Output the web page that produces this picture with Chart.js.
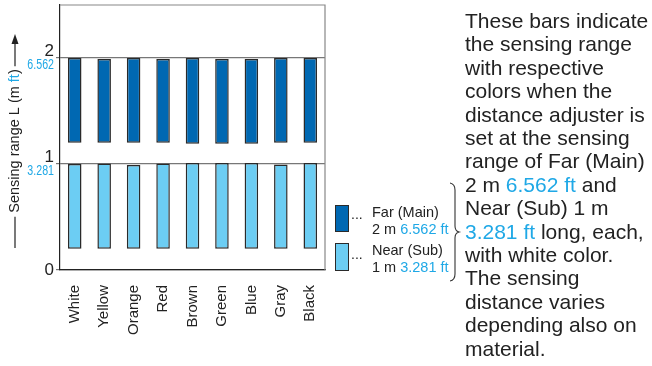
<!DOCTYPE html>
<html>
<head>
<meta charset="utf-8">
<script src="https://cdn.jsdelivr.net/npm/chart.js@4/dist/chart.umd.min.js"></script>
<style>
  html, body { margin: 0; padding: 0; background: #fff; }
  #wrap { position: relative; width: 652px; height: 366px; font-family: "Liberation Sans", Arial, sans-serif; color: #222; }
  #chart { position: absolute; left: 0; top: 0; }
  .ft { color: #1fa8e6; }
  #note { position: absolute; left: 465px; top: 9px; font-size: 21px; line-height: 23.4px; white-space: nowrap; }
  .sw { position: absolute; left: 335px; width: 14px; border: 1.5px solid #2a2a2a; box-sizing: border-box; }
  .lg { position: absolute; left: 372px; font-size: 14.5px; line-height: 16.5px; white-space: nowrap; }
  .dots { position: absolute; left: 351px; font-size: 14px; line-height: 14px; }
</style>
</head>
<body>
<div id="wrap">
  <canvas id="chart" width="652" height="366"></canvas>

  <div class="sw" style="top:205px;height:27px;background:#0068b2"></div>
  <div class="dots" style="top:207px">...</div>
  <div class="lg" style="top:204px">Far (Main)<br>2 m <span class="ft">6.562 ft</span></div>

  <div class="sw" style="top:243px;height:28px;background:#6ccdf3"></div>
  <div class="dots" style="top:247px">...</div>
  <div class="lg" style="top:242px">Near (Sub)<br>1 m <span class="ft">3.281 ft</span></div>

  <div id="note">These bars indicate<br>the sensing range<br>with respective<br>colors when the<br>distance adjuster is<br>set at the sensing<br>range of Far (Main)<br>2 m <span class="ft">6.562 ft</span> and<br>Near (Sub) 1 m<br><span class="ft">3.281 ft</span> long, each,<br>with white color.<br>The sensing<br>distance varies<br>depending also on<br>material.</div>
</div>

<script>
// object colours on the x axis
const colorNames = ['White', 'Yellow', 'Orange', 'Red', 'Brown', 'Green', 'Blue', 'Gray', 'Black'];

// Far (Main) range, start and end in m
const farStart = [1.2, 1.2, 1.2, 1.2, 1.19, 1.19, 1.19, 1.2, 1.2];
const farEnd   = [2.0, 1.99, 2.0, 1.99, 2.0, 1.99, 1.99, 2.0, 2.0];

// Near (Sub) range, start and end in m
const nearStart = [0.2, 0.2, 0.2, 0.2, 0.2, 0.2, 0.2, 0.2, 0.2];
const nearEnd   = [1.0, 1.005, 0.99, 1.005, 1.01, 1.01, 1.01, 0.995, 1.01];

// y ticks: metres and the feet shown under them
const tickMeters = [0, 1, 2];
const tickFeet   = ['', '3.281', '6.562'];

const CYAN = '#1fa8e6';
const INK = '#222';

// axis labels, frame, y title with arrow, brace
const decorations = {
  id: 'decorations',
  afterDraw(chart) {
    const ctx = chart.ctx;
    const area = chart.chartArea;
    const y = chart.scales.y;
    ctx.save();

    // top and right frame
    ctx.strokeStyle = '#888';
    ctx.lineWidth = 1.2;
    ctx.beginPath();
    ctx.moveTo(area.left, area.top);
    ctx.lineTo(area.right, area.top);
    ctx.lineTo(area.right, area.bottom);
    ctx.stroke();

    // y tick labels
    ctx.textAlign = 'right';
    ctx.textBaseline = 'middle';
    tickMeters.forEach((v, i) => {
      const py = y.getPixelForValue(v);
      ctx.fillStyle = INK;
      ctx.font = '17px "Liberation Sans", Arial, sans-serif';
      if (v === 0) {
        ctx.fillText('0', 54, py);
      } else {
        ctx.fillText(String(v), 54, py - 7);
        ctx.save();
        ctx.translate(54, py + 7);
        ctx.scale(0.76, 1);
        ctx.fillStyle = CYAN;
        ctx.font = '14px "Liberation Sans", Arial, sans-serif';
        ctx.fillText(tickFeet[i], 0, 0);
        ctx.restore();
      }
    });

    // y title, rotated, with line and arrow
    const parts = [['Sensing range L (m ', INK], ['ft', CYAN], [')', INK]];
    ctx.font = '14.5px "Liberation Sans", Arial, sans-serif';
    const w = parts.reduce((s, p) => s + ctx.measureText(p[0]).width, 0);
    const cx = 15, mid = 141;
    ctx.save();
    ctx.translate(cx, mid);
    ctx.rotate(-Math.PI / 2);
    ctx.textAlign = 'left';
    ctx.textBaseline = 'middle';
    let tx = -w / 2;
    parts.forEach(p => {
      ctx.fillStyle = p[1];
      ctx.fillText(p[0], tx, 0);
      tx += ctx.measureText(p[0]).width;
    });
    ctx.restore();

    ctx.strokeStyle = INK;
    ctx.lineWidth = 1.2;
    ctx.beginPath();
    ctx.moveTo(cx, 248);
    ctx.lineTo(cx, mid + w / 2 + 4);
    ctx.moveTo(cx, mid - w / 2 - 3);
    ctx.lineTo(cx, 42);
    ctx.stroke();
    ctx.fillStyle = INK;
    ctx.beginPath();
    ctx.moveTo(cx, 34);
    ctx.lineTo(cx - 3.5, 44);
    ctx.lineTo(cx + 3.5, 44);
    ctx.closePath();
    ctx.fill();

    // curly brace next to legend
    ctx.strokeStyle = '#333';
    ctx.lineWidth = 1.1;
    ctx.beginPath();
    ctx.moveTo(450, 183);
    ctx.quadraticCurveTo(455, 184, 455, 190);
    ctx.lineTo(455, 226);
    ctx.quadraticCurveTo(455, 231, 459, 232);
    ctx.quadraticCurveTo(455, 233, 455, 238);
    ctx.lineTo(455, 274);
    ctx.quadraticCurveTo(455, 280, 450, 281);
    ctx.stroke();

    ctx.restore();
  }
};

const farData = farStart.map((s, i) => [s, farEnd[i]]);
const nearData = nearStart.map((s, i) => [s, nearEnd[i]]);

new Chart(document.getElementById('chart'), {
  type: 'bar',
  data: {
    labels: colorNames,
    datasets: [
      {
        label: 'Far (Main)',
        data: farData,
        backgroundColor: '#0068b2',
        borderColor: '#2a2a2a',
        borderWidth: 1.5,
        borderSkipped: false
      },
      {
        label: 'Near (Sub)',
        data: nearData,
        backgroundColor: '#6ccdf3',
        borderColor: '#2a2a2a',
        borderWidth: 1.5,
        borderSkipped: false
      }
    ]
  },
  options: {
    responsive: false,
    animation: false,
    devicePixelRatio: 1,
    grouped: false,
    barPercentage: 0.46,
    categoryPercentage: 1,
    layout: { padding: { left: 0, right: 327, top: 5, bottom: 0 } },
    plugins: { legend: { display: false }, tooltip: { enabled: false } },
    scales: {
      x: {
        grid: { display: false },
        border: { color: INK, width: 1.2 },
        ticks: {
          color: INK,
          minRotation: 90,
          maxRotation: 90,
          padding: 7,
          font: { family: '"Liberation Sans", Arial, sans-serif', size: 15 }
        },
        afterFit: s => { s.height = 96; }
      },
      y: {
        min: 0,
        max: 2.5,
        afterBuildTicks: s => { s.ticks = tickMeters.map(v => ({ value: v })); },
        ticks: { display: false },
        grid: { color: '#777', lineWidth: 1.2, tickLength: 4, drawTicks: true },
        border: { color: INK, width: 1.2 },
        afterFit: s => { s.width = 60; }
      }
    }
  },
  plugins: [decorations]
});
</script>
</body>
</html>
